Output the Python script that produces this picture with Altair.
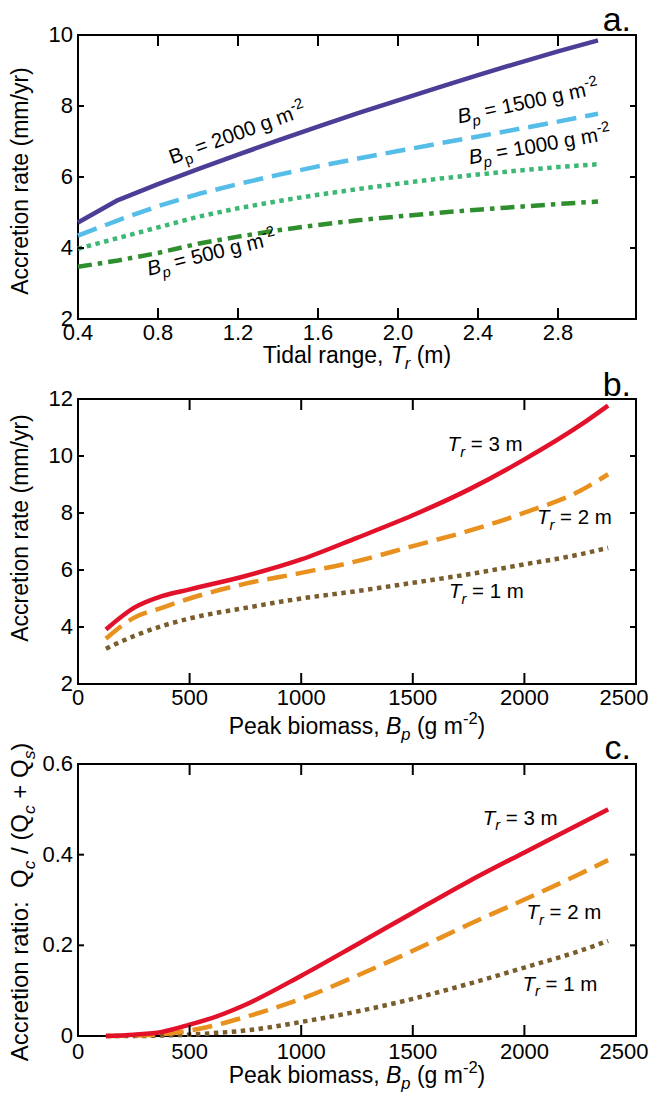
import altair as alt
import pandas as pd

# ---------------- panel a: accretion rate vs tidal range ----------------
tidal_range = [0.4, 0.6, 0.8, 1.0, 1.2, 1.4, 1.6, 1.8, 2.0, 2.2, 2.4, 2.6, 2.8, 3.0]
rate_bp2000 = [4.72, 5.35, 5.80, 6.22, 6.63, 7.03, 7.42, 7.80, 8.16, 8.52, 8.87, 9.21, 9.54, 9.85]
rate_bp1500 = [4.35, 4.78, 5.18, 5.52, 5.80, 6.06, 6.30, 6.52, 6.73, 6.94, 7.14, 7.35, 7.56, 7.78]
rate_bp1000 = [3.98, 4.28, 4.58, 4.88, 5.12, 5.32, 5.50, 5.66, 5.81, 5.95, 6.07, 6.18, 6.28, 6.36]
rate_bp500 = [3.47, 3.65, 3.86, 4.12, 4.32, 4.50, 4.65, 4.78, 4.89, 4.99, 5.08, 5.16, 5.24, 5.31]
ticks_a_x = [0.4, 0.8, 1.2, 1.6, 2.0, 2.4, 2.8]
labels_a_x = ["0.4", "0.8", "1.2", "1.6", "2.0", "2.4", "2.8"]
ticks_a_y = [2, 4, 6, 8, 10]
labels_a_y = ["2", "4", "6", "8", "10"]

# ---------------- panel b: accretion rate vs peak biomass ----------------
biomass_b = [125, 250, 375, 500, 750, 1000, 1250, 1500, 1750, 2000, 2250, 2375]
rate_tr3 = [3.91, 4.67, 5.08, 5.32, 5.79, 6.37, 7.13, 7.92, 8.82, 9.88, 11.08, 11.77]
rate_tr2 = [3.59, 4.32, 4.67, 5.00, 5.52, 5.90, 6.31, 6.84, 7.37, 8.01, 8.78, 9.36]
rate_tr1 = [3.24, 3.68, 4.03, 4.30, 4.67, 5.00, 5.26, 5.55, 5.85, 6.20, 6.55, 6.78]
ticks_b_y = [2, 4, 6, 8, 10, 12]
labels_b_y = ["2", "4", "6", "8", "10", "12"]
ticks_biomass = [0, 500, 1000, 1500, 2000, 2500]
labels_biomass = ["0", "500", "1000", "1500", "2000", "2500"]

# ---------------- panel c: organic accretion ratio ----------------
biomass_c = [125, 250, 375, 500, 625, 750, 1000, 1250, 1500, 1750, 2000, 2250, 2375]
ratio_tr3 = [0.0, 0.003, 0.009, 0.025, 0.044, 0.069, 0.133, 0.202, 0.272, 0.341, 0.405, 0.468, 0.500]
ratio_tr2 = [0.0, 0.001, 0.004, 0.012, 0.025, 0.042, 0.082, 0.133, 0.188, 0.246, 0.301, 0.358, 0.388]
ratio_tr1 = [0.0, 0.0, 0.001, 0.003, 0.007, 0.012, 0.031, 0.054, 0.082, 0.115, 0.151, 0.188, 0.210]
ticks_c_y = [0, 0.2, 0.4, 0.6]
labels_c_y = ["0", "0.2", "0.4", "0.6"]

# ---------------- styling ----------------
FONT = "Liberation Sans"
W = 558
HA, HB, HC = 284, 285, 272
TICK_FS = 22
TITLE_FS = 23
NOTE_FS = 20.5
LW = 4.5
XTICK_LEN = 11   # px, vertical tick marks on the top and bottom edges
YTICK_LEN = 6    # px, horizontal tick marks on the left and right edges

PURPLE = "#4e3d96"
SKY = "#56bde8"
MINT = "#3cb874"
GREEN = "#2f8f2f"
RED = "#e3122b"
ORANGE = "#e8911e"
BROWN = "#7a5d2c"

SOLID = None
DASHED = [20, 9]
DOTTED = [4.5, 4.5]
DASHDOT = [14, 6, 4.5, 6]

# Arial / Liberation Sans advance widths (1/1000 em)
ADV = {" ": 278, "(": 333, ")": 333, ",": 278, "-": 333, ".": 278, "/": 278, ":": 278,
       "=": 584, "+": 584, "A": 667, "B": 667, "P": 667, "Q": 778, "T": 611,
       "a": 556, "b": 556, "c": 500, "d": 556, "e": 556, "g": 556, "i": 222, "k": 500,
       "l": 222, "m": 833, "n": 556, "o": 556, "p": 556, "r": 333, "s": 500, "t": 278,
       "y": 500}

SUB = 0.72


def text_width(s, size):
    return sum(ADV.get(ch, 556) for ch in s) * size / 1000.0


def rich_text(pieces, size, data, enc, angle=0, center=False):
    """Lay out a run of text pieces (normal / italic / subscript / superscript).

    SVG collapses leading and trailing blanks, so they are turned into offsets."""
    runs = []
    pos = 0.0
    for txt, kind in pieces:
        small = kind in ("sub", "isub", "sup")
        fs = size * SUB if small else size
        if kind in ("sub", "isub"):
            dy = 0.28 * size
        elif kind == "sup":
            dy = -0.42 * size
        else:
            dy = 0.0
        style = "italic" if kind in ("i", "isub") else "normal"
        core = txt.strip(" ")
        lead = len(txt) - len(txt.lstrip(" "))
        trail = len(txt) - len(txt.rstrip(" "))
        pos += text_width(" " * lead, fs)
        if core:
            runs.append((core, pos, dy, fs, style))
        pos += text_width(core, fs) + text_width(" " * trail, fs)
    shift = -pos / 2.0 if center else 0.0
    layers = []
    for txt, dx, dy, fs, style in runs:
        kw = dict(text=txt, align="left", baseline="alphabetic", dx=dx + shift, dy=dy,
                  fontSize=fs, fontStyle=style, font=FONT, color="black")
        if angle:
            kw["angle"] = angle
        layers.append(alt.Chart(data).mark_text(**kw).encode(**enc))
    return layers


ONE = pd.DataFrame({"k": [0]})


def series_line(xs, ys, color, dash, xscale, yscale, interp="linear"):
    df = pd.DataFrame({"x": xs, "y": ys})
    kw = dict(color=color, strokeWidth=LW, strokeCap="butt", strokeJoin="round",
              interpolate=interp)
    if dash is not None:
        kw["strokeDash"] = dash
    return alt.Chart(df).mark_line(**kw).encode(
        x=alt.X("x:Q", scale=xscale, axis=None),
        y=alt.Y("y:Q", scale=yscale, axis=None),
    )


def frame_ticks(xt, yt, xdom, ydom, xscale, yscale, h):
    """Inward tick marks on all four sides of the frame, one short segment each."""
    x0, x1 = xdom
    y0, y1 = ydom
    ylen = XTICK_LEN * (y1 - y0) / h      # tick length expressed on the y scale
    xlen = YTICK_LEN * (x1 - x0) / W      # tick length expressed on the x scale
    rows = []
    for i, v in enumerate(xt):
        rows += [("b%d" % i, v, y0), ("b%d" % i, v, y0 + ylen)]
        rows += [("t%d" % i, v, y1), ("t%d" % i, v, y1 - ylen)]
    for i, v in enumerate(yt):
        rows += [("l%d" % i, x0, v), ("l%d" % i, x0 + xlen, v)]
        rows += [("r%d" % i, x1, v), ("r%d" % i, x1 - xlen, v)]
    df = pd.DataFrame(rows, columns=["seg", "tx", "ty"])
    return [alt.Chart(df).mark_line(color="black", strokeWidth=2, strokeCap="butt").encode(
        x=alt.X("tx:Q", scale=xscale, axis=None),
        y=alt.Y("ty:Q", scale=yscale, axis=None),
        detail="seg:N",
    )]


def tick_labels(xt, xl, yt, yl, xscale, yscale, h, pad, last_shift=0):
    lab = dict(fontSize=TICK_FS, font=FONT, color="black")
    xdf = pd.DataFrame({"v": xt, "label": xl})
    ydf = pd.DataFrame({"v": yt, "label": yl})
    out = []
    if last_shift:
        main, last = xdf.iloc[:-1], xdf.iloc[-1:]
        out.append(alt.Chart(last).mark_text(align="center", baseline="top", dx=last_shift, **lab)
                   .encode(x=alt.X("v:Q", scale=xscale, axis=None), y=alt.value(h + pad),
                           text="label:N"))
    else:
        main = xdf
    out.append(alt.Chart(main).mark_text(align="center", baseline="top", **lab)
               .encode(x=alt.X("v:Q", scale=xscale, axis=None), y=alt.value(h + pad),
                       text="label:N"))
    out.append(alt.Chart(ydf).mark_text(align="right", baseline="middle", **lab)
               .encode(y=alt.Y("v:Q", scale=yscale, axis=None), x=alt.value(-5),
                       text="label:N"))
    return out


def panel_label(letter, y):
    return alt.Chart(ONE).mark_text(text=letter, align="right", baseline="alphabetic",
                                    fontSize=34, font=FONT, color="black").encode(
        x=alt.value(W - 5), y=alt.value(y))


def y_title(pieces, center_y, size=TITLE_FS):
    return rich_text(pieces, size, ONE,
                     dict(x=alt.value(-50), y=alt.value(center_y)), angle=270, center=True)


def x_title(pieces, base_y):
    return rich_text(pieces, TITLE_FS, ONE,
                     dict(x=alt.value(W / 2), y=alt.value(base_y)), center=True)


def note(pieces, x, y, xscale, yscale, angle=0):
    df = pd.DataFrame({"x": [x], "y": [y]})
    enc = dict(x=alt.X("x:Q", scale=xscale, axis=None), y=alt.Y("y:Q", scale=yscale, axis=None))
    return rich_text(pieces, NOTE_FS, df, enc, angle=angle)


def bp_label(value, italic=True):
    if italic:
        return [("B", "i"), ("p", "isub"), (" = %d g m" % value, "n"), ("-2", "sup")]
    return [("B", "n"), ("p", "sub"), (" = %d g m" % value, "n"), ("-2", "sup")]


def tr_label(value):
    return [("T", "i"), ("r", "isub"), (" = %d m" % value, "n")]


# ---------------- panel a ----------------
dom_ax, dom_ay = [0.4, 3.19], [2, 10]
xa = alt.Scale(domain=dom_ax, nice=False, zero=False)
ya = alt.Scale(domain=dom_ay, nice=False, zero=False)

layers_a = [
    series_line(tidal_range, rate_bp500, GREEN, DASHDOT, xa, ya),
    series_line(tidal_range, rate_bp1000, MINT, DOTTED, xa, ya),
    series_line(tidal_range, rate_bp1500, SKY, DASHED, xa, ya),
    series_line(tidal_range, rate_bp2000, PURPLE, SOLID, xa, ya),
]
layers_a += frame_ticks(ticks_a_x, ticks_a_y, dom_ax, dom_ay, xa, ya, HA)
layers_a += tick_labels(ticks_a_x, labels_a_x, ticks_a_y, labels_a_y, xa, ya, HA, 4)
layers_a += note(bp_label(2000, italic=False), 0.87, 6.36, xa, ya, angle=340)
layers_a += note(bp_label(1500), 2.305, 7.51, xa, ya, angle=348)
layers_a += note(bp_label(1000), 2.36, 6.36, xa, ya, angle=350)
layers_a += note(bp_label(500), 0.755, 3.22, xa, ya, angle=346)
layers_a += y_title([("Accretion rate (mm/yr)", "n")], 146)
layers_a += x_title([("Tidal range, ", "n"), ("T", "i"), ("r", "isub"), (" (m)", "n")], HA + 44)
layers_a.append(panel_label("a.", -4))
# an empty strip that fixes the left and top margins of the figure
layers_a.append(alt.Chart(ONE).mark_rule(strokeOpacity=0, strokeWidth=0).encode(
    x=alt.value(-77), x2=alt.value(-77), y=alt.value(-34), y2=alt.value(0)))

panel_a = alt.layer(*layers_a).properties(width=W, height=HA)

# ---------------- panel b ----------------
dom_bx, dom_by = [0, 2500], [2, 12]
xb = alt.Scale(domain=dom_bx, nice=False, zero=False)
yb = alt.Scale(domain=dom_by, nice=False, zero=False)

layers_b = [
    series_line(biomass_b, rate_tr1, BROWN, DOTTED, xb, yb, "monotone"),
    series_line(biomass_b, rate_tr2, ORANGE, DASHED, xb, yb, "monotone"),
    series_line(biomass_b, rate_tr3, RED, SOLID, xb, yb, "monotone"),
]
layers_b += frame_ticks(ticks_biomass, ticks_b_y, dom_bx, dom_by, xb, yb, HB)
layers_b += tick_labels(ticks_biomass, labels_biomass, ticks_b_y, labels_b_y, xb, yb, HB, 4,
                        last_shift=-12)
layers_b += note(tr_label(3), 1656, 10.17, xb, yb)
layers_b += note(tr_label(2), 2056, 7.61, xb, yb)
layers_b += note(tr_label(1), 1662, 5.02, xb, yb)
layers_b += y_title([("Accretion rate (mm/yr)", "n")], 129)
biomass_title = [("Peak biomass, ", "n"), ("B", "i"), ("p", "isub"), (" (g m", "n"),
                 ("-2", "sup"), (")", "n")]
layers_b += x_title(biomass_title, HB + 50)
layers_b.append(panel_label("b.", -3))

panel_b = alt.layer(*layers_b).properties(width=W, height=HB)

# ---------------- panel c ----------------
dom_cx, dom_cy = [0, 2500], [0, 0.6]
xc = alt.Scale(domain=dom_cx, nice=False, zero=False)
yc = alt.Scale(domain=dom_cy, nice=False, zero=False)

layers_c = [
    series_line(biomass_c, ratio_tr1, BROWN, DOTTED, xc, yc, "monotone"),
    series_line(biomass_c, ratio_tr2, ORANGE, DASHED, xc, yc, "monotone"),
    series_line(biomass_c, ratio_tr3, RED, SOLID, xc, yc, "monotone"),
]
layers_c += frame_ticks(ticks_biomass, ticks_c_y, dom_cx, dom_cy, xc, yc, HC)
layers_c += tick_labels(ticks_biomass, labels_biomass, ticks_c_y, labels_c_y, xc, yc, HC, 6,
                        last_shift=-12)
layers_c += note(tr_label(3), 1813, 0.466, xc, yc)
layers_c += note(tr_label(2), 2009, 0.258, xc, yc)
layers_c += note(tr_label(1), 1991, 0.100, xc, yc)
layers_c += y_title([("Accretion ratio:  ", "n"), ("Q", "n"), ("c", "isub"), (" /", "n"),
                     (" (Q", "n"), ("c", "isub"), (" +", "n"), (" Q", "n"), ("s", "isub"),
                     (")", "n")], 138, size=24)
layers_c += x_title(biomass_title, HC + 47)
layers_c.append(panel_label("c.", -5))

panel_c = alt.layer(*layers_c).properties(width=W, height=HC)

chart = alt.vconcat(panel_a, panel_b, panel_c, spacing=80, bounds="flush").properties(
    padding=0, background="white"
).configure_view(stroke="black", strokeWidth=2)

chart.save("out.html", embed_options={"renderer": "svg", "actions": False})
